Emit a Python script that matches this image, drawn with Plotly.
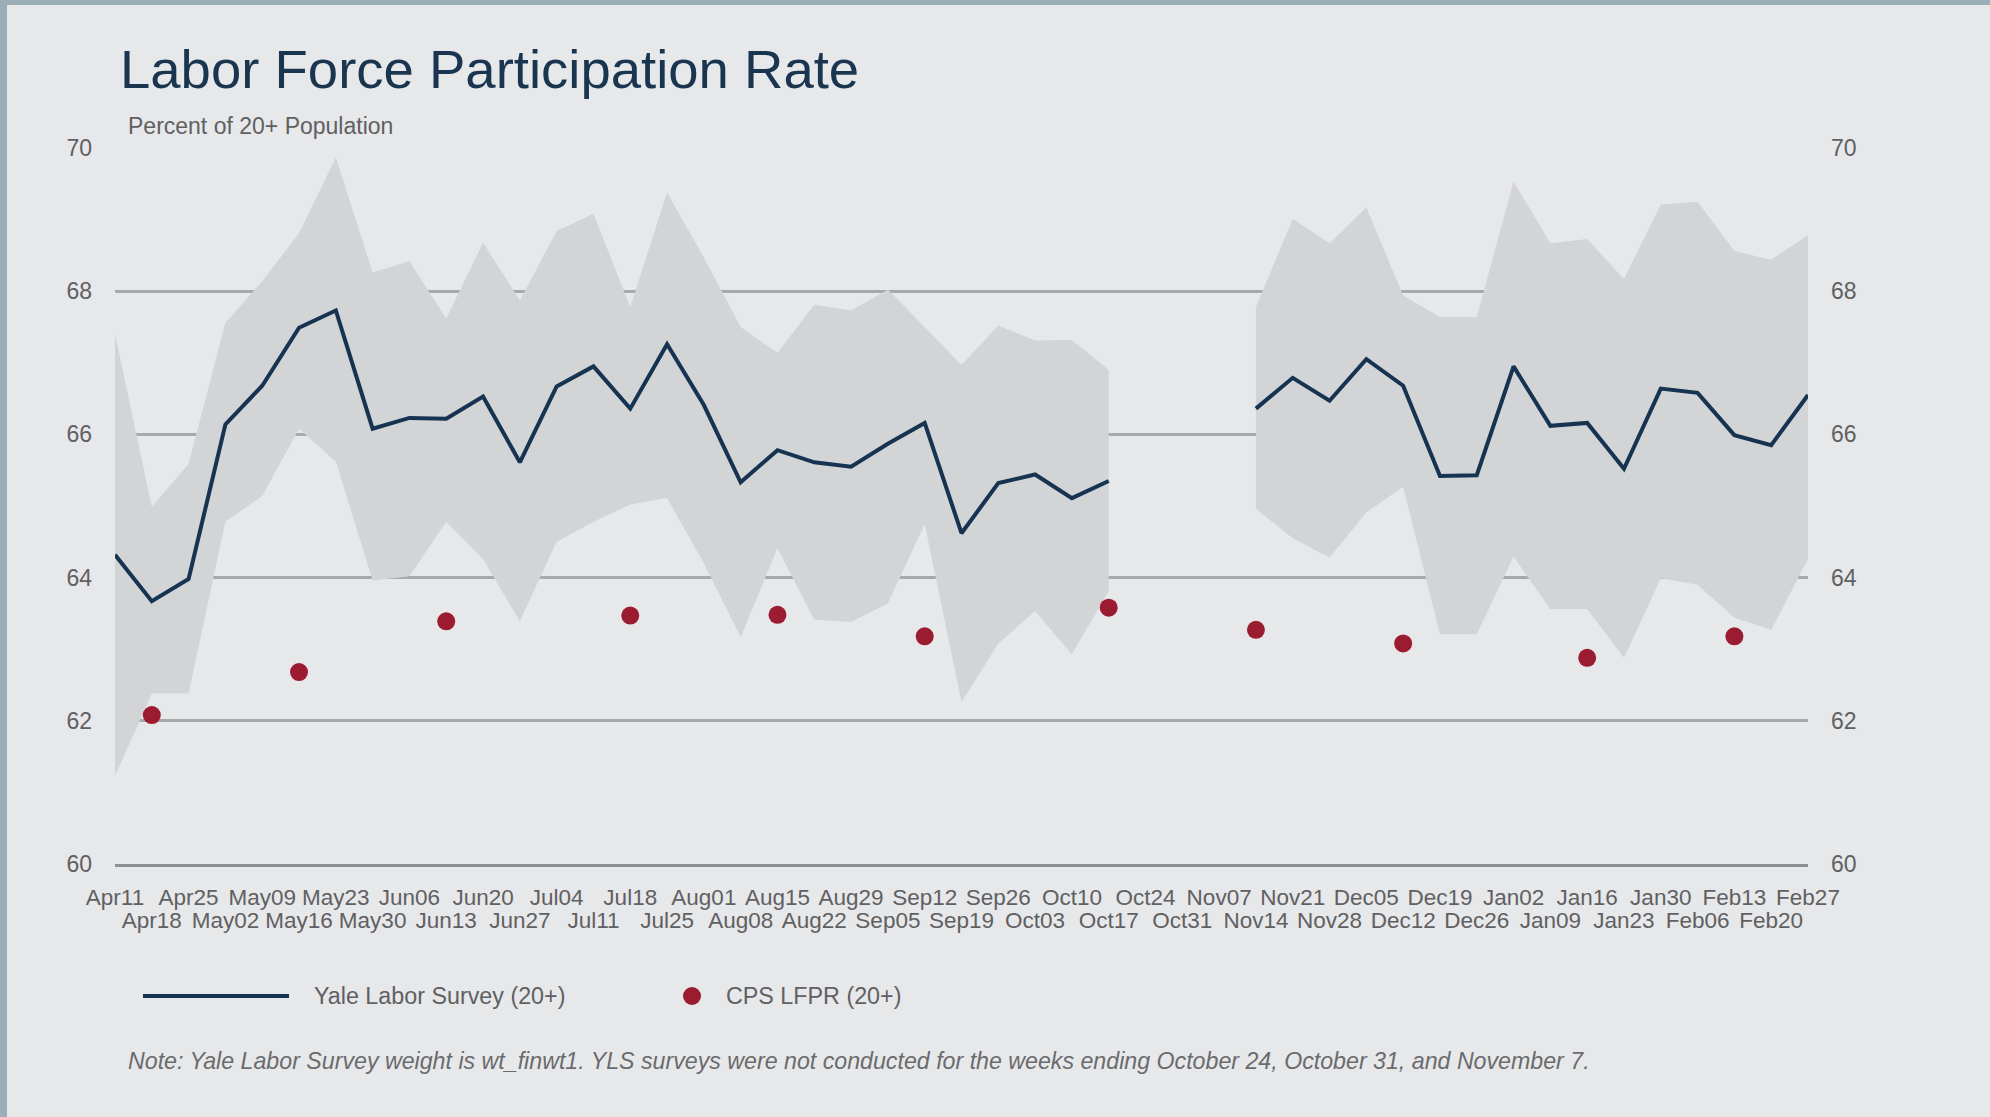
import plotly.graph_objects as go

# ---------------- data ----------------
weeks = ["Apr11", "Apr18", "Apr25", "May02", "May09", "May16", "May23", "May30",
         "Jun06", "Jun13", "Jun20", "Jun27", "Jul04", "Jul11", "Jul18", "Jul25",
         "Aug01", "Aug08", "Aug15", "Aug22", "Aug29", "Sep05", "Sep12", "Sep19",
         "Sep26", "Oct03", "Oct10", "Oct17", "Oct24", "Oct31", "Nov07", "Nov14",
         "Nov21", "Nov28", "Dec05", "Dec12", "Dec19", "Dec26", "Jan02", "Jan09",
         "Jan16", "Jan23", "Jan30", "Feb06", "Feb13", "Feb20", "Feb27"]

yale_lfpr = [64.32, 63.67, 63.98, 66.14, 66.68, 67.49, 67.73, 66.08, 66.23, 66.22,
             66.53, 65.61, 66.67, 66.95, 66.36, 67.26, 66.41, 65.33, 65.78, 65.61,
             65.55, 65.87, 66.16, 64.62, 65.32, 65.44, 65.11, 65.35, None, None,
             None, 66.36, 66.79, 66.47, 67.05, 66.68, 65.42, 65.43, 66.95, 66.12,
             66.16, 65.52, 66.64, 66.58, 65.99, 65.85, 66.55]

yale_upper = [67.40, 64.99, 65.59, 67.56, 68.14, 68.81, 69.87, 68.26, 68.42, 67.62,
              68.68, 67.87, 68.84, 69.08, 67.78, 69.38, 68.47, 67.50, 67.14, 67.81,
              67.73, 68.02, 67.50, 66.97, 67.52, 67.31, 67.32, 66.90, None, None,
              None, 67.78, 69.01, 68.67, 69.17, 67.94, 67.64, 67.64, 69.53, 68.67,
              68.73, 68.17, 69.21, 69.25, 68.56, 68.44, 68.78]

yale_lower = [61.23, 62.38, 62.38, 64.78, 65.14, 66.08, 65.62, 63.96, 64.02, 64.78,
              64.26, 63.39, 64.50, 64.78, 65.02, 65.11, 64.20, 63.17, 64.41, 63.41,
              63.38, 63.64, 64.75, 62.26, 63.08, 63.53, 62.93, 63.81, None, None,
              None, 64.96, 64.55, 64.28, 64.91, 65.27, 63.21, 63.21, 64.29, 63.56,
              63.56, 62.88, 63.99, 63.90, 63.44, 63.27, 64.26]

cps_weeks = ["Apr18", "May16", "Jun13", "Jul18", "Aug15", "Sep12", "Oct17",
             "Nov14", "Dec12", "Jan16", "Feb13"]
cps_lfpr = [62.08, 62.68, 63.39, 63.47, 63.48, 63.18, 63.58, 63.27, 63.08, 62.88, 63.18]

y_ticks = [60, 62, 64, 66, 68, 70]

title_text = "Labor Force Participation Rate"
subtitle_text = "Percent of 20+ Population"
legend_yale = "Yale Labor Survey (20+)"
legend_cps = "CPS LFPR (20+)"
note_text = ("Note: Yale Labor Survey weight is wt_finwt1. YLS surveys were not conducted "
             "for the weeks ending October 24, October 31, and November 7.")

# ---------------- style ----------------
W, H = 1990, 1117
ML, MR, MT, MB = 115, 182, 148, 253
PW, PH = W - ML - MR, H - MT - MB
BG = "#e7e8ea"
BAND = "#d3d4d6"
NAVY = "#163452"
RED = "#9b1b30"
GRID = "#a8a9ab"
TXT = "#5f6062"
BORDER = "#9badb6"
FONT = "Liberation Sans, Arial, Helvetica, sans-serif"

idx = list(range(len(weeks)))

fig = go.Figure()

# confidence band, one polygon per contiguous segment
segments, cur = [], []
for i in idx:
    if yale_upper[i] is None:
        if cur:
            segments.append(cur)
        cur = []
    else:
        cur.append(i)
if cur:
    segments.append(cur)

for seg in segments:
    xs = seg + seg[::-1]
    ys = [yale_upper[i] for i in seg] + [yale_lower[i] for i in seg[::-1]]
    fig.add_trace(go.Scatter(x=xs, y=ys, fill="toself", fillcolor=BAND,
                             line=dict(width=0), mode="lines",
                             hoverinfo="skip", showlegend=False))

fig.add_trace(go.Scatter(x=idx, y=yale_lfpr, mode="lines", name=legend_yale,
                         line=dict(color=NAVY, width=4), connectgaps=False,
                         showlegend=False))

fig.add_trace(go.Scatter(x=[weeks.index(w) for w in cps_weeks], y=cps_lfpr,
                         mode="markers", name=legend_cps,
                         marker=dict(color=RED, size=18), showlegend=False))

# helper trace for the secondary axes
fig.add_trace(go.Scatter(x=[idx[0]], y=[y_ticks[0]], xaxis="x2", yaxis="y2",
                         mode="markers", marker=dict(opacity=0),
                         hoverinfo="skip", showlegend=False))

even = idx[0::2]
odd = idx[1::2]

fig.update_layout(
    width=W, height=H,
    margin=dict(l=ML, r=MR, t=MT, b=MB, pad=0),
    paper_bgcolor=BG, plot_bgcolor=BG,
    font=dict(family=FONT, color=TXT, size=22),
    hovermode=False,
    showlegend=False,
    xaxis=dict(range=[0, len(weeks) - 1], tickvals=even,
               ticktext=[weeks[i] for i in even], ticks="", showgrid=False,
               zeroline=False, showline=True, linecolor="#8e8f91", linewidth=3,
               tickfont=dict(size=22.5, color=TXT), ticklabelstandoff=11),
    xaxis2=dict(range=[0, len(weeks) - 1], overlaying="x", side="bottom",
                anchor="y", tickvals=odd, ticktext=[weeks[i] for i in odd],
                ticks="", showgrid=False, zeroline=False, showline=False,
                tickfont=dict(size=22.5, color=TXT), ticklabelstandoff=40),
    yaxis=dict(range=[60, 70], tickvals=y_ticks, ticks="", showgrid=True,
               gridcolor=GRID, gridwidth=2.5, zeroline=False, showline=False,
               tickfont=dict(size=23, color=TXT), ticklabelstandoff=22),
    yaxis2=dict(range=[60, 70], overlaying="y", side="right", anchor="x",
                tickvals=y_ticks, ticks="", showgrid=False, zeroline=False,
                showline=False, tickfont=dict(size=23, color=TXT),
                ticklabelstandoff=22),
)

def px_x(px):
    return (px - ML) / PW

def px_y(py):
    return (H - MB - py) / PH

ann = []
ann.append(dict(text=title_text, xref="paper", yref="paper", x=px_x(118), y=px_y(70),
                xanchor="left", yanchor="middle", showarrow=False,
                font=dict(size=54.5, color="#1a3550", family=FONT)))
ann.append(dict(text=subtitle_text, xref="paper", yref="paper", x=px_x(126), y=px_y(126),
                xanchor="left", yanchor="middle", showarrow=False,
                font=dict(size=23, color=TXT, family=FONT)))
ann.append(dict(text=legend_yale, xref="paper", yref="paper", x=px_x(312), y=px_y(996),
                xanchor="left", yanchor="middle", showarrow=False,
                font=dict(size=23.3, color=TXT, family=FONT)))
ann.append(dict(text=legend_cps, xref="paper", yref="paper", x=px_x(724), y=px_y(996),
                xanchor="left", yanchor="middle", showarrow=False,
                font=dict(size=23.3, color=TXT, family=FONT)))
ann.append(dict(text="<i>" + note_text + "</i>", xref="paper", yref="paper",
                x=px_x(126), y=px_y(1061), xanchor="left", yanchor="middle",
                showarrow=False, font=dict(size=23.2, color="#6a6b6d", family=FONT)))
fig.update_layout(annotations=ann)

shapes = []
# legend glyphs
shapes.append(dict(type="line", xref="paper", yref="paper", x0=px_x(143), x1=px_x(289),
                   y0=px_y(996), y1=px_y(996), line=dict(color=NAVY, width=4)))
shapes.append(dict(type="circle", xref="paper", yref="paper", x0=px_x(683), x1=px_x(701),
                   y0=px_y(1005), y1=px_y(987), fillcolor=RED, line=dict(width=0)))
# frame strips
shapes.append(dict(type="rect", xref="paper", yref="paper", x0=px_x(0), x1=px_x(7),
                   y0=px_y(H), y1=px_y(0), fillcolor=BORDER, line=dict(width=0)))
shapes.append(dict(type="rect", xref="paper", yref="paper", x0=px_x(0), x1=px_x(W),
                   y0=px_y(5), y1=px_y(0), fillcolor=BORDER, line=dict(width=0)))
fig.update_layout(shapes=shapes)

fig.write_html("out.html", config={"displayModeBar": False},
               post_script="document.body.style.margin='0';document.body.style.overflow='hidden';")
